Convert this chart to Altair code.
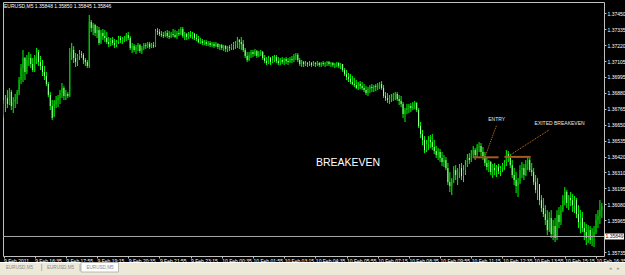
import altair as alt
import pandas as pd

# ---- data (EURUSD M5, 9 Feb 2011 15:15 -> 10 Feb 2011 16:50) ----
OPEN = [
    1.36720, 1.36799, 1.36842, 1.36799, 1.36885, 1.36785, 1.36813, 1.36835, 1.36885, 1.36971,
    1.37057, 1.37129, 1.37029, 1.37115, 1.37129, 1.37086, 1.37043, 1.37129, 1.37172, 1.37100,
    1.37072, 1.37029, 1.37000, 1.36943, 1.36864, 1.36785, 1.36713, 1.36799, 1.36828, 1.36842,
    1.36878, 1.36914, 1.36857, 1.36871, 1.36857, 1.37172, 1.37187, 1.37129, 1.37100, 1.37144,
    1.37158, 1.37151, 1.37115, 1.37100, 1.37072, 1.37388, 1.37344, 1.37366, 1.37309, 1.37330,
    1.37237, 1.37309, 1.37287, 1.37273, 1.37244, 1.37230, 1.37258, 1.37237, 1.37222, 1.37244,
    1.37273, 1.37258, 1.37266, 1.37273, 1.37294, 1.37273, 1.37201, 1.37215, 1.37187, 1.37208,
    1.37222, 1.37179, 1.37201, 1.37222, 1.37215, 1.37230, 1.37208, 1.37222, 1.37215, 1.37323,
    1.37316, 1.37301, 1.37294, 1.37287, 1.37309, 1.37287, 1.37280, 1.37301, 1.37294, 1.37280,
    1.37309, 1.37301, 1.37337, 1.37287, 1.37301, 1.37280, 1.37294, 1.37287, 1.37301, 1.37273,
    1.37266, 1.37244, 1.37251, 1.37237, 1.37244, 1.37230, 1.37237, 1.37222, 1.37230, 1.37215,
    1.37230, 1.37208, 1.37222, 1.37201, 1.37215, 1.37194, 1.37208, 1.37201, 1.37222, 1.37230,
    1.37237, 1.37258, 1.37244, 1.37230, 1.37187, 1.37144, 1.37115, 1.37151, 1.37172, 1.37158,
    1.37179, 1.37144, 1.37165, 1.37172, 1.37129, 1.37108, 1.37093, 1.37129, 1.37100, 1.37115,
    1.37136, 1.37108, 1.37093, 1.37115, 1.37100, 1.37122, 1.37108, 1.37100, 1.37122, 1.37115,
    1.37144, 1.37151, 1.37115, 1.37086, 1.37100, 1.37086, 1.37093, 1.37086, 1.37093, 1.37079,
    1.37093, 1.37086, 1.37093, 1.37079, 1.37093, 1.37086, 1.37093, 1.37100, 1.37086, 1.37093,
    1.37079, 1.37086, 1.37093, 1.37072, 1.37086, 1.37043, 1.37014, 1.36993, 1.36979, 1.36957,
    1.36943, 1.36935, 1.36914, 1.36943, 1.36928, 1.36914, 1.36900, 1.36878, 1.36907, 1.36921,
    1.36914, 1.36928, 1.36921, 1.36935, 1.36943, 1.36914, 1.36857, 1.36842, 1.36828, 1.36842,
    1.36849, 1.36864, 1.36871, 1.36835, 1.36821, 1.36799, 1.36727, 1.36756, 1.36770, 1.36785,
    1.36770, 1.36799, 1.36806, 1.36756, 1.36641, 1.36584, 1.36541, 1.36469, 1.36512, 1.36541,
    1.36526, 1.36491, 1.36462, 1.36433, 1.36455, 1.36412, 1.36383, 1.36397, 1.36340, 1.36239,
    1.36211, 1.36254, 1.36325, 1.36290, 1.36311, 1.36340, 1.36282, 1.36325, 1.36361, 1.36412,
    1.36397, 1.36440, 1.36469, 1.36433, 1.36491, 1.36498, 1.36455, 1.36426, 1.36376, 1.36347,
    1.36383, 1.36311, 1.36340, 1.36325, 1.36347, 1.36318, 1.36340, 1.36361, 1.36383, 1.36440,
    1.36412, 1.36361, 1.36290, 1.36254, 1.36211, 1.36239, 1.36325, 1.36340, 1.36290, 1.36369,
    1.36397, 1.36325, 1.36311, 1.36239, 1.36182, 1.36225, 1.36110, 1.36053, 1.36010, 1.35967,
    1.35895, 1.35981, 1.35866, 1.35924, 1.35838, 1.36003, 1.35952, 1.36038, 1.36110, 1.36168,
    1.36089, 1.36125, 1.36110, 1.36074, 1.36110, 1.36010, 1.35952, 1.35981, 1.35909, 1.35881,
    1.35838, 1.35895, 1.35823, 1.35852, 1.35881, 1.35967, 1.35995, 1.36038,
]
HIGH = [
    1.36828, 1.36864, 1.36900, 1.36914, 1.36900, 1.36849, 1.36871, 1.36900, 1.36993, 1.37086,
    1.37187, 1.37136, 1.37151, 1.37172, 1.37158, 1.37129, 1.37151, 1.37201, 1.37187, 1.37144,
    1.37115, 1.37072, 1.37029, 1.36957, 1.36885, 1.36828, 1.36828, 1.36857, 1.36864, 1.36900,
    1.36950, 1.36928, 1.36900, 1.36885, 1.37201, 1.37237, 1.37215, 1.37165, 1.37158, 1.37187,
    1.37179, 1.37165, 1.37129, 1.37115, 1.37438, 1.37402, 1.37380, 1.37373, 1.37359, 1.37352,
    1.37330, 1.37337, 1.37330, 1.37316, 1.37280, 1.37273, 1.37280, 1.37266, 1.37258, 1.37287,
    1.37287, 1.37280, 1.37287, 1.37309, 1.37316, 1.37287, 1.37237, 1.37230, 1.37222, 1.37237,
    1.37230, 1.37215, 1.37237, 1.37237, 1.37244, 1.37244, 1.37237, 1.37244, 1.37337, 1.37344,
    1.37337, 1.37323, 1.37316, 1.37323, 1.37330, 1.37323, 1.37316, 1.37337, 1.37330, 1.37323,
    1.37337, 1.37352, 1.37352, 1.37316, 1.37309, 1.37316, 1.37323, 1.37316, 1.37309, 1.37301,
    1.37287, 1.37273, 1.37266, 1.37258, 1.37258, 1.37251, 1.37251, 1.37244, 1.37244, 1.37244,
    1.37237, 1.37230, 1.37230, 1.37222, 1.37222, 1.37215, 1.37222, 1.37230, 1.37244, 1.37251,
    1.37280, 1.37266, 1.37280, 1.37258, 1.37201, 1.37172, 1.37172, 1.37187, 1.37187, 1.37194,
    1.37187, 1.37179, 1.37187, 1.37179, 1.37151, 1.37136, 1.37144, 1.37136, 1.37144, 1.37151,
    1.37151, 1.37136, 1.37129, 1.37136, 1.37129, 1.37136, 1.37129, 1.37136, 1.37144, 1.37158,
    1.37165, 1.37165, 1.37129, 1.37115, 1.37108, 1.37108, 1.37100, 1.37108, 1.37100, 1.37108,
    1.37100, 1.37108, 1.37100, 1.37100, 1.37108, 1.37100, 1.37108, 1.37108, 1.37100, 1.37100,
    1.37093, 1.37100, 1.37100, 1.37093, 1.37086, 1.37057, 1.37043, 1.37022, 1.37014, 1.37000,
    1.36986, 1.36971, 1.36957, 1.36964, 1.36957, 1.36943, 1.36928, 1.36921, 1.36935, 1.36943,
    1.36935, 1.36943, 1.36950, 1.36957, 1.36964, 1.36935, 1.36885, 1.36878, 1.36864, 1.36871,
    1.36878, 1.36885, 1.36885, 1.36864, 1.36857, 1.36813, 1.36770, 1.36799, 1.36799, 1.36806,
    1.36813, 1.36821, 1.36813, 1.36770, 1.36670, 1.36613, 1.36569, 1.36541, 1.36569, 1.36577,
    1.36584, 1.36541, 1.36498, 1.36483, 1.36476, 1.36455, 1.36433, 1.36419, 1.36376, 1.36311,
    1.36268, 1.36354, 1.36361, 1.36340, 1.36369, 1.36376, 1.36361, 1.36397, 1.36440, 1.36447,
    1.36469, 1.36498, 1.36483, 1.36512, 1.36526, 1.36519, 1.36491, 1.36455, 1.36412, 1.36397,
    1.36390, 1.36369, 1.36376, 1.36361, 1.36369, 1.36354, 1.36376, 1.36397, 1.36469, 1.36462,
    1.36440, 1.36397, 1.36340, 1.36311, 1.36268, 1.36361, 1.36383, 1.36369, 1.36397, 1.36419,
    1.36412, 1.36376, 1.36340, 1.36290, 1.36268, 1.36225, 1.36146, 1.36125, 1.36074, 1.36038,
    1.36024, 1.36038, 1.35967, 1.35981, 1.36038, 1.36060, 1.36074, 1.36146, 1.36203, 1.36182,
    1.36146, 1.36168, 1.36153, 1.36139, 1.36125, 1.36074, 1.36038, 1.36024, 1.35952, 1.35938,
    1.35931, 1.35924, 1.35909, 1.35924, 1.36010, 1.36038, 1.36110, 1.36089,
]
LOW = [
    1.36699, 1.36742, 1.36770, 1.36792, 1.36756, 1.36735, 1.36770, 1.36799, 1.36864, 1.36943,
    1.36957, 1.36971, 1.37014, 1.37072, 1.37057, 1.37029, 1.37029, 1.37086, 1.37072, 1.37043,
    1.37000, 1.36971, 1.36928, 1.36849, 1.36756, 1.36684, 1.36706, 1.36770, 1.36778, 1.36799,
    1.36842, 1.36828, 1.36828, 1.36842, 1.36849, 1.37115, 1.37093, 1.37065, 1.37072, 1.37115,
    1.37129, 1.37086, 1.37072, 1.37057, 1.37057, 1.37316, 1.37294, 1.37287, 1.37273, 1.37222,
    1.37230, 1.37258, 1.37244, 1.37230, 1.37208, 1.37215, 1.37222, 1.37201, 1.37208, 1.37230,
    1.37237, 1.37230, 1.37244, 1.37251, 1.37258, 1.37187, 1.37165, 1.37172, 1.37158, 1.37179,
    1.37165, 1.37158, 1.37187, 1.37194, 1.37201, 1.37194, 1.37201, 1.37201, 1.37208, 1.37294,
    1.37287, 1.37280, 1.37273, 1.37280, 1.37273, 1.37266, 1.37273, 1.37280, 1.37273, 1.37266,
    1.37287, 1.37294, 1.37273, 1.37258, 1.37258, 1.37266, 1.37273, 1.37266, 1.37258, 1.37251,
    1.37237, 1.37230, 1.37222, 1.37222, 1.37215, 1.37215, 1.37208, 1.37208, 1.37201, 1.37208,
    1.37194, 1.37187, 1.37187, 1.37179, 1.37172, 1.37172, 1.37179, 1.37187, 1.37187, 1.37194,
    1.37201, 1.37194, 1.37187, 1.37172, 1.37129, 1.37100, 1.37108, 1.37129, 1.37136, 1.37144,
    1.37129, 1.37136, 1.37144, 1.37115, 1.37093, 1.37079, 1.37086, 1.37079, 1.37093, 1.37100,
    1.37093, 1.37079, 1.37079, 1.37086, 1.37079, 1.37086, 1.37079, 1.37093, 1.37093, 1.37100,
    1.37115, 1.37100, 1.37072, 1.37065, 1.37065, 1.37072, 1.37065, 1.37072, 1.37065, 1.37072,
    1.37065, 1.37072, 1.37065, 1.37065, 1.37072, 1.37065, 1.37072, 1.37072, 1.37065, 1.37065,
    1.37057, 1.37065, 1.37057, 1.37050, 1.37029, 1.37000, 1.36971, 1.36957, 1.36943, 1.36935,
    1.36921, 1.36907, 1.36900, 1.36907, 1.36900, 1.36885, 1.36864, 1.36857, 1.36878, 1.36885,
    1.36885, 1.36892, 1.36900, 1.36907, 1.36900, 1.36842, 1.36821, 1.36806, 1.36799, 1.36813,
    1.36821, 1.36828, 1.36821, 1.36792, 1.36778, 1.36699, 1.36670, 1.36727, 1.36735, 1.36742,
    1.36756, 1.36763, 1.36742, 1.36627, 1.36555, 1.36505, 1.36447, 1.36455, 1.36469, 1.36483,
    1.36469, 1.36440, 1.36412, 1.36397, 1.36383, 1.36354, 1.36347, 1.36325, 1.36218, 1.36168,
    1.36146, 1.36232, 1.36254, 1.36218, 1.36268, 1.36254, 1.36239, 1.36290, 1.36347, 1.36369,
    1.36383, 1.36412, 1.36397, 1.36419, 1.36455, 1.36426, 1.36397, 1.36354, 1.36325, 1.36311,
    1.36290, 1.36268, 1.36290, 1.36275, 1.36297, 1.36282, 1.36311, 1.36325, 1.36354, 1.36383,
    1.36340, 1.36268, 1.36218, 1.36160, 1.36132, 1.36225, 1.36268, 1.36254, 1.36282, 1.36325,
    1.36311, 1.36282, 1.36218, 1.36160, 1.36110, 1.36074, 1.36024, 1.35988, 1.35931, 1.35859,
    1.35881, 1.35838, 1.35823, 1.35809, 1.35823, 1.35909, 1.35931, 1.36024, 1.36074, 1.36053,
    1.36038, 1.36067, 1.36024, 1.36017, 1.35981, 1.35909, 1.35873, 1.35881, 1.35823, 1.35787,
    1.35802, 1.35794, 1.35780, 1.35773, 1.35866, 1.35909, 1.35938, 1.35981,
]
CLOSE = [
    1.36799, 1.36842, 1.36799, 1.36885, 1.36785, 1.36813, 1.36835, 1.36885, 1.36971, 1.37057,
    1.37129, 1.37029, 1.37115, 1.37129, 1.37086, 1.37043, 1.37129, 1.37172, 1.37100, 1.37072,
    1.37029, 1.37000, 1.36943, 1.36864, 1.36785, 1.36699, 1.36799, 1.36828, 1.36842, 1.36878,
    1.36914, 1.36857, 1.36871, 1.36857, 1.37172, 1.37187, 1.37129, 1.37100, 1.37144, 1.37158,
    1.37151, 1.37115, 1.37100, 1.37072, 1.37388, 1.37344, 1.37366, 1.37309, 1.37330, 1.37237,
    1.37309, 1.37287, 1.37273, 1.37244, 1.37230, 1.37258, 1.37237, 1.37222, 1.37244, 1.37273,
    1.37258, 1.37266, 1.37273, 1.37294, 1.37273, 1.37201, 1.37215, 1.37187, 1.37208, 1.37222,
    1.37179, 1.37201, 1.37222, 1.37215, 1.37230, 1.37208, 1.37222, 1.37215, 1.37323, 1.37316,
    1.37301, 1.37294, 1.37287, 1.37309, 1.37287, 1.37280, 1.37301, 1.37294, 1.37280, 1.37309,
    1.37301, 1.37337, 1.37287, 1.37301, 1.37280, 1.37294, 1.37287, 1.37301, 1.37273, 1.37266,
    1.37244, 1.37251, 1.37237, 1.37244, 1.37230, 1.37237, 1.37222, 1.37230, 1.37215, 1.37230,
    1.37208, 1.37222, 1.37201, 1.37215, 1.37194, 1.37208, 1.37201, 1.37222, 1.37230, 1.37237,
    1.37258, 1.37244, 1.37230, 1.37187, 1.37144, 1.37115, 1.37151, 1.37172, 1.37158, 1.37179,
    1.37144, 1.37165, 1.37172, 1.37129, 1.37108, 1.37093, 1.37129, 1.37100, 1.37115, 1.37136,
    1.37108, 1.37093, 1.37115, 1.37100, 1.37122, 1.37108, 1.37100, 1.37122, 1.37115, 1.37144,
    1.37151, 1.37115, 1.37086, 1.37100, 1.37086, 1.37093, 1.37086, 1.37093, 1.37079, 1.37093,
    1.37086, 1.37093, 1.37079, 1.37093, 1.37086, 1.37093, 1.37100, 1.37086, 1.37093, 1.37079,
    1.37086, 1.37093, 1.37072, 1.37086, 1.37043, 1.37014, 1.36993, 1.36979, 1.36957, 1.36943,
    1.36935, 1.36914, 1.36943, 1.36928, 1.36914, 1.36900, 1.36878, 1.36907, 1.36921, 1.36914,
    1.36928, 1.36921, 1.36935, 1.36943, 1.36914, 1.36857, 1.36842, 1.36828, 1.36842, 1.36849,
    1.36864, 1.36871, 1.36835, 1.36821, 1.36799, 1.36727, 1.36756, 1.36770, 1.36785, 1.36770,
    1.36799, 1.36806, 1.36756, 1.36641, 1.36584, 1.36541, 1.36469, 1.36512, 1.36541, 1.36526,
    1.36491, 1.36462, 1.36433, 1.36455, 1.36412, 1.36383, 1.36397, 1.36340, 1.36239, 1.36211,
    1.36254, 1.36325, 1.36290, 1.36311, 1.36340, 1.36282, 1.36325, 1.36361, 1.36412, 1.36397,
    1.36440, 1.36469, 1.36433, 1.36491, 1.36498, 1.36455, 1.36426, 1.36376, 1.36347, 1.36383,
    1.36311, 1.36340, 1.36325, 1.36347, 1.36318, 1.36340, 1.36361, 1.36383, 1.36440, 1.36412,
    1.36361, 1.36290, 1.36254, 1.36211, 1.36239, 1.36325, 1.36340, 1.36290, 1.36369, 1.36397,
    1.36325, 1.36311, 1.36239, 1.36182, 1.36225, 1.36110, 1.36053, 1.36010, 1.35967, 1.35895,
    1.35981, 1.35866, 1.35924, 1.35838, 1.36003, 1.35952, 1.36038, 1.36110, 1.36168, 1.36089,
    1.36125, 1.36110, 1.36074, 1.36110, 1.36010, 1.35952, 1.35981, 1.35909, 1.35881, 1.35838,
    1.35895, 1.35823, 1.35852, 1.35881, 1.35967, 1.35995, 1.36038, 1.36067,
]

X_TICK_BARS = list(range(0, 305, 16))
X_TICK_LABELS = [
    "9 Feb 2011", "9 Feb 16:35", "9 Feb 17:55", "9 Feb 19:15", "9 Feb 20:35",
    "9 Feb 21:55", "9 Feb 23:15", "10 Feb 00:35", "10 Feb 01:55", "10 Feb 03:15",
    "10 Feb 04:35", "10 Feb 05:55", "10 Feb 07:15", "10 Feb 08:35", "10 Feb 09:55",
    "10 Feb 11:15", "10 Feb 12:35", "10 Feb 13:55", "10 Feb 15:15", "10 Feb 16:35",
]
# the 1.35850 grid label sits under the current-price box in the reference
Y_TICKS = [1.37450, 1.37335, 1.37220, 1.37105, 1.36995, 1.36880, 1.36765, 1.36650,
           1.36535, 1.36420, 1.36310, 1.36195, 1.36080, 1.35965, 1.35735]
BID = 1.35849
HEADER = "EURUSD,M5  1.35848 1.35850 1.35845 1.35846"

TRADE_START = [241, 257]
TRADE_END = [254, 270.5]
TRADE_PRICE = [1.36417, 1.36420]

PTR_X1 = [247.4, 260.7]
PTR_P1 = [1.36433, 1.36440]
PTR_X2 = [253.0, 279.9]
PTR_P2 = [1.36648, 1.36613]

NOTE_TEXT = ["ENTRY", "EXITED BREAKEVEN"]
NOTE_X = [253.0, 285.3]
NOTE_P = [1.36691, 1.36665]

BIG_TEXT = "BREAKEVEN"
BIG_X = 176.8
BIG_P = 1.36374

TABS = ["EURUSD,M5", "EURUSD,M5", "EURUSD,M5"]

# ---- chart ----
W, H = 601, 254
FONT = "Liberation Sans"

df = pd.DataFrame({"bar": list(range(len(OPEN))), "open": OPEN, "high": HIGH,
                   "low": LOW, "close": CLOSE})
df["dir"] = ["up" if c >= o else "down" for o, c in zip(OPEN, CLOSE)]

xs = alt.Scale(domain=[-0.257, 308.1], nice=False, zero=False)
ys = alt.Scale(domain=[1.35709, 1.37531], nice=False, zero=False)

label_expr = "[" + ",".join("'%s'" % t for t in X_TICK_LABELS) + "][round(datum.value/16)]"

x_axis = alt.Axis(values=X_TICK_BARS, labelExpr=label_expr, labelAlign="left",
                  labelBaseline="top", labelFontSize=5, labelFont=FONT,
                  labelColor="#ffffff", labelPadding=0, tickSize=2,
                  tickColor="#c0c0c0", domain=False, grid=False, title=None,
                  labelOverlap=False, labelFlush=False, labelBound=False)
y_axis = alt.Axis(orient="right", values=Y_TICKS, format=".5f", labelFontSize=5,
                  labelFont=FONT, labelColor="#ffffff", tickSize=2,
                  tickColor="#c0c0c0", labelPadding=1, domain=False, grid=False,
                  title=None, labelOverlap=False, labelFlush=False, labelBound=False)

wicks = alt.Chart(df).mark_rule(color="#00ff00", strokeWidth=1).encode(
    x=alt.X("bar:Q", scale=xs, axis=x_axis),
    y=alt.Y("low:Q", scale=ys, axis=y_axis),
    y2="high:Q",
)
bodies = alt.Chart(df).mark_rule(strokeWidth=1).encode(
    x=alt.X("bar:Q", scale=xs, axis=x_axis),
    y=alt.Y("open:Q", scale=ys, axis=y_axis),
    y2="close:Q",
    color=alt.Color("dir:N", scale=alt.Scale(domain=["up", "down"],
                                             range=["#00c000", "#a8ffa8"]),
                    legend=None),
)

bid_df = pd.DataFrame({"p": [BID], "t": ["%.5f" % BID]})
bid_line = alt.Chart(bid_df).mark_rule(color="#a8a8a8", strokeWidth=1).encode(
    y=alt.Y("p:Q", scale=ys, axis=y_axis))
bid_box = alt.Chart(bid_df).mark_tick(orient="horizontal", thickness=6, size=19,
                                      color="#ffffff", opacity=1).encode(
    y=alt.Y("p:Q", scale=ys, axis=y_axis), x=alt.value(W + 10.5))
bid_text = alt.Chart(bid_df).mark_text(fontSize=5, font=FONT, color="#500000",
                                       align="center", baseline="middle").encode(
    y=alt.Y("p:Q", scale=ys, axis=y_axis), x=alt.value(W + 10.5), text="t:N")

trade_df = pd.DataFrame({"s": TRADE_START, "e": TRADE_END, "p": TRADE_PRICE})
trades = alt.Chart(trade_df).mark_rule(color="#a65a1c", strokeWidth=2).encode(
    x=alt.X("s:Q", scale=xs, axis=x_axis), x2="e:Q",
    y=alt.Y("p:Q", scale=ys, axis=y_axis))

ptr_df = pd.DataFrame({"x1": PTR_X1, "p1": PTR_P1, "x2": PTR_X2, "p2": PTR_P2})
pointers = alt.Chart(ptr_df).mark_rule(color="#d27a1e", strokeWidth=1,
                                       strokeDash=[1, 1]).encode(
    x=alt.X("x1:Q", scale=xs, axis=x_axis), y=alt.Y("p1:Q", scale=ys, axis=y_axis),
    x2="x2:Q", y2="p2:Q")

note_df = pd.DataFrame({"t": NOTE_TEXT, "x": NOTE_X, "p": NOTE_P})
notes = alt.Chart(note_df).mark_text(fontSize=5, font=FONT, color="#e8e8e8",
                                     align="center", baseline="middle").encode(
    x=alt.X("x:Q", scale=xs, axis=x_axis), y=alt.Y("p:Q", scale=ys, axis=y_axis),
    text="t:N")

big_df = pd.DataFrame({"t": [BIG_TEXT], "x": [BIG_X], "p": [BIG_P]})
big = alt.Chart(big_df).mark_text(fontSize=10.5, font=FONT, color="#ffffff",
                                  align="center", baseline="middle").encode(
    x=alt.X("x:Q", scale=xs, axis=x_axis), y=alt.Y("p:Q", scale=ys, axis=y_axis),
    text="t:N")

hdr_df = pd.DataFrame({"t": [HEADER]})
header = alt.Chart(hdr_df).mark_text(fontSize=5, font=FONT, color="#ffffff",
                                     align="left", baseline="middle").encode(
    x=alt.value(1), y=alt.value(3.8), text="t:N")

one = pd.DataFrame({"k": [0]})
tabbar = alt.Chart(one).mark_rect(color="#ece9d8").encode(
    x=alt.value(-3), x2=alt.value(W + 21), y=alt.value(H + 6), y2=alt.value(H + 19))
tabline = alt.Chart(one).mark_rule(color="#ffffff").encode(
    x=alt.value(-3), x2=alt.value(W + 21), y=alt.value(H + 6.5))
active_tab = alt.Chart(one).mark_rect(color="#ffffff", stroke="#a0a0a0",
                                      strokeWidth=0.7).encode(
    x=alt.value(78), x2=alt.value(115.5), y=alt.value(H + 6.5), y2=alt.value(H + 16))
tab_df = pd.DataFrame({"t": TABS, "pos": [16.5, 57.5, 97]})
tab_text = alt.Chart(tab_df).mark_text(fontSize=4.6, font=FONT, color="#8a8a8a",
                                       align="center", baseline="middle").encode(
    x=alt.X("pos:Q", scale=None), y=alt.value(H + 11.5), text="t:N")
seps = alt.Chart(pd.DataFrame({"pos": [38.7, 77]})).mark_rule(color="#b0b0b0").encode(
    x=alt.X("pos:Q", scale=None), y=alt.value(H + 8), y2=alt.value(H + 15))
arrows = alt.Chart(pd.DataFrame({"t": ["\u25c2", "\u25b8"], "pos": [W + 6, W + 14]})).mark_text(
    fontSize=5, color="#9a9a9a", baseline="middle").encode(
    x=alt.X("pos:Q", scale=None), y=alt.value(H + 11.5), text="t:N")

chart = alt.layer(
    wicks, bodies, bid_line, trades, pointers, notes, big, header,
    bid_box, bid_text, tabbar, tabline, active_tab, tab_text, seps, arrows,
).properties(
    width=W, height=H,
    autosize=alt.AutoSizeParams(type="none"),
    padding={"left": 3, "top": 2, "right": 21, "bottom": 19},
    background="#000000",
).configure_view(
    stroke="#c0c0c0", strokeWidth=1, fill="#000000",
).configure_axis(
    labelOverlap=False, labelFlush=False, labelBound=False,
)

chart.save("out.html", embed_options={"renderer": "svg", "actions": False})
